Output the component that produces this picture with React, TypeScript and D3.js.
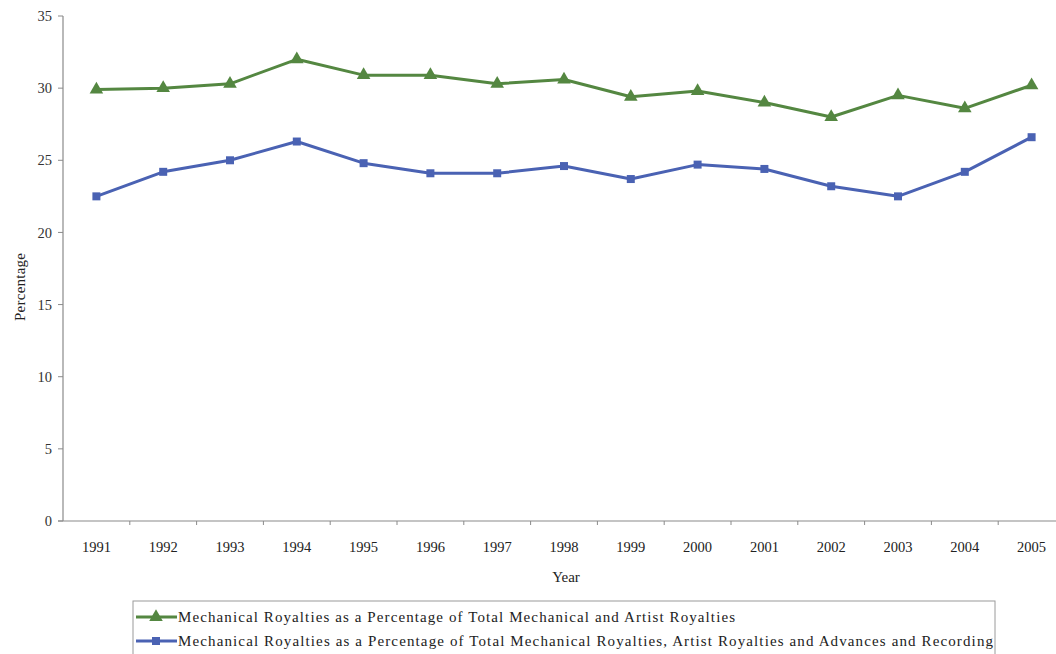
import React from "react";
import * as d3 from "d3";

const years = ["1991","1992","1993","1994","1995","1996","1997","1998","1999","2000","2001","2002","2003","2004","2005"];
const artistShare = [29.9,30.0,30.3,32.0,30.9,30.9,30.3,30.6,29.4,29.8,29.0,28.0,29.5,28.6,30.2];
const totalShare = [22.5,24.2,25.0,26.3,24.8,24.1,24.1,24.6,23.7,24.7,24.4,23.2,22.5,24.2,26.6];
const yTicks = [0,5,10,15,20,25,30,35];
const legendLabels = [
  "Mechanical Royalties as a Percentage of Total Mechanical and Artist Royalties",
  "Mechanical Royalties as a Percentage of Total Mechanical Royalties, Artist Royalties and Advances and Recording",
];
const legendWidths = [557, 815];

const W = 1056, H = 654;
const GREEN = "#548741";
const BLUE = "#4a62b3";
const FONT = "'Liberation Serif', 'DejaVu Serif', serif";

export default function App() {
  const left = 63, top = 16, bottom = 521;
  const band = 66.8;
  const x = d3.scaleBand<string>().domain(years).range([left, left + band * years.length]).padding(0);
  const y = d3.scaleLinear().domain([0, 35]).range([bottom, top]);
  const cx = (d: string) => (x(d) as number) + x.bandwidth() / 2;
  const line = d3.line<number>().x((_, i) => cx(years[i])).y((v) => y(v));
  const tri = d3.symbol().type(d3.symbolTriangle).size(80)();
  const sq = d3.symbol().type(d3.symbolSquare).size(64)();
  const series = [
    { vals: artistShare, color: GREEN, marker: tri },
    { vals: totalShare, color: BLUE, marker: sq },
  ];
  const boundaries = years.map((d) => (x(d) as number) + x.bandwidth());

  return (
    <svg width={W} height={H} style={{ position: "absolute", left: 0, top: 0, background: "#fff" }} fontFamily={FONT}>
      <rect x={0} y={0} width={W} height={H} fill="#fff" />
      {/* y axis */}
      <line x1={left} x2={left} y1={top} y2={bottom} stroke="#8a8a8a" strokeWidth={1.2} />
      {yTicks.map((t) => (
        <g key={t}>
          <line x1={left - 5} x2={left} y1={y(t)} y2={y(t)} stroke="#8a8a8a" />
          <text x={left - 11} y={y(t)} dy="0.35em" textAnchor="end" fontSize={14.5} fill="#333">{t}</text>
        </g>
      ))}
      {/* x axis */}
      <line x1={left - 5} x2={W} y1={bottom} y2={bottom} stroke="#8a8a8a" strokeWidth={1.2} />
      {boundaries.map((b, i) => (
        <line key={i} x1={b} x2={b} y1={bottom} y2={bottom + 4} stroke="#8a8a8a" />
      ))}
      {years.map((d) => (
        <text key={d} x={cx(d)} y={552} textAnchor="middle" fontSize={14.5} fill="#222">{d}</text>
      ))}
      <text x={566} y={582} textAnchor="middle" fontSize={15} fill="#222">Year</text>
      <text transform={`translate(25,${287}) rotate(-90)`} textAnchor="middle" fontSize={15} fill="#222" textLength={68} lengthAdjust="spacing">Percentage</text>
      {/* series */}
      {series.map((s, si) => (
        <g key={si}>
          <path d={line(s.vals) || ""} fill="none" stroke={s.color} strokeWidth={3} strokeLinejoin="round" />
          {s.vals.map((v, i) => (
            <path key={i} d={s.marker || ""} transform={`translate(${cx(years[i])},${y(v)})`} fill={s.color} />
          ))}
        </g>
      ))}
      {/* legend */}
      <rect x={133} y={601} width={862} height={60} fill="none" stroke="#9a9a9a" strokeWidth={1} />
      {legendLabels.map((lab, i) => {
        const ly = 617 + i * 24;
        const s = series[i];
        return (
          <g key={i}>
            <line x1={136} x2={177} y1={ly} y2={ly} stroke={s.color} strokeWidth={3} />
            <path d={s.marker || ""} transform={`translate(156,${ly})`} fill={s.color} />
            <text x={178} y={ly} dy="0.35em" fontSize={15} fill="#222" textLength={legendWidths[i]} lengthAdjust="spacing">{lab}</text>
          </g>
        );
      })}
    </svg>
  );
}
